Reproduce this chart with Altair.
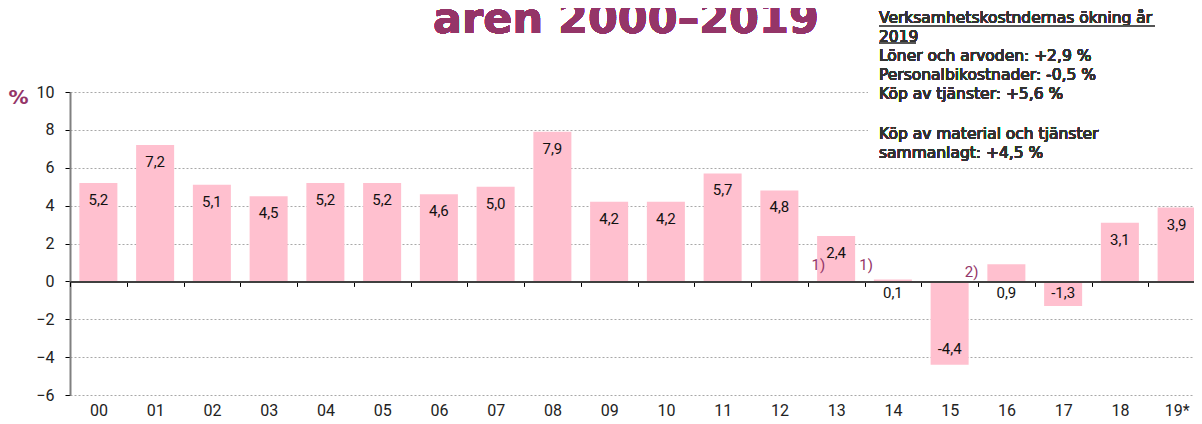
import altair as alt
import pandas as pd

years = ["00", "01", "02", "03", "04", "05", "06", "07", "08", "09",
         "10", "11", "12", "13", "14", "15", "16", "17", "18", "19*"]
values = [5.2, 7.2, 5.1, 4.5, 5.2, 5.2, 4.6, 5.0, 7.9, 4.2,
          4.2, 5.7, 4.8, 2.4, 0.1, -4.4, 0.9, -1.3, 3.1, 3.9]
y_ticks = [-6, -4, -2, 0, 2, 4, 6, 8, 10]
note_years = ["13", "14", "16"]
note_texts = ["1)", "1)", "2)"]
title_text = "åren 2000–2019"
y_title = "%"
box_lines_a = [
    "Verksamhetskostndernas ökning år",
    "2019",
    "Löner och arvoden:  +2,9 %",
    "Personalbikostnader:  -0,5 %",
    "Köp av tjänster: +5,6 %",
]
box_lines_b = [
    "Köp av material och tjänster",
    "sammanlagt: +4,5 %",
]

PURPLE = "#943568"
PINK = "#FFC0CF"
W, H = 1135, 303

df = pd.DataFrame({"year": years, "value": values})
df["label"] = [f"{v:.1f}".replace(".", ",") for v in values]
notes = pd.DataFrame({"year": note_years, "note": note_texts})

x_scale = alt.Scale(paddingInner=0, paddingOuter=0)
x_axis = alt.Axis(
    title=None, labelAngle=0, orient="bottom", offset=-113.6,
    tickBand="extent", tickSize=5, tickColor="#000000", tickWidth=1,
    domainColor="#404040", domainWidth=2,
    labelFont="Roboto", labelFontSize=16, labelColor="#222222",
    labelPadding=116, labelBaseline="top", zindex=1,
)
y_scale = alt.Scale(domain=[-6, 10], nice=False, zero=False)
y_axis = alt.Axis(
    values=y_ticks, grid=True, gridDash=[2, 2], gridColor="#a8a8a8",
    gridWidth=1, domainColor="#808080", domainWidth=2, tickColor="#000000",
    tickSize=5, labelFont="Roboto", labelFontSize=16, labelColor="#222222",
    labelPadding=11, labelOverlap=False,
    title=y_title, titleAngle=0, titleAlign="left", titleBaseline="alphabetic",
    titleX=-62, titleY=11, titleColor=PURPLE, titleFont="DejaVu Sans",
    titleFontWeight="bold", titleFontSize=20,
)

x_enc = alt.X("year:N", sort=years, scale=x_scale, axis=x_axis)
y_enc = alt.Y("value:Q", scale=y_scale, axis=y_axis)
y_zero = alt.YDatum(0, scale=y_scale, axis=y_axis)

base = alt.Chart(df)
bars = base.mark_bar(color=PINK, width=alt.RelativeBandSize(0.67)).encode(
    x=x_enc, y=y_enc, y2=alt.datum(0))

lbl_style = dict(font="Roboto", fontSize=15, color="#111111", baseline="middle")
lab_pos = base.transform_filter("datum.value >= 2").mark_text(dy=17, **lbl_style).encode(
    x=x_enc, y=y_enc, text="label:N")
lab_neg = base.transform_filter("datum.value <= -2").mark_text(dy=-16, **lbl_style).encode(
    x=x_enc, y=y_enc, text="label:N")
lab_small = base.transform_filter("datum.value > -2 && datum.value < 2").mark_text(
    dy=12, **lbl_style).encode(x=x_enc, y=y_zero, text="label:N")

note_offsets = [(-11, -16.5), (-20, -16.5), (-28, -9.5)]
note_layers = []
for i, (dx, dy) in enumerate(note_offsets):
    note_layers.append(
        alt.Chart(notes.iloc[[i]]).mark_text(
            align="right", baseline="middle", dx=dx, dy=dy,
            font="Roboto", fontSize=15, color=PURPLE,
        ).encode(x=x_enc, y=y_zero, text="note:N")
    )

white_box = alt.Chart(df).mark_rect(color="white").encode(
    x=alt.value(798), x2=alt.value(W), y=alt.value(-92), y2=alt.value(68))

box_style = dict(align="left", baseline="alphabetic", font="DejaVu Sans", fontSize=15.5,
                 color="#333333", lineHeight=19)
box_text_a = alt.Chart(df).mark_text(**box_style).encode(
    x=alt.value(809), y=alt.value(-68.7), text=alt.value(box_lines_a))
box_text_b = alt.Chart(df).mark_text(**box_style).encode(
    x=alt.value(809), y=alt.value(46.5), text=alt.value(box_lines_b))

underline1 = alt.Chart(df).mark_rule(color="#555555", strokeWidth=1).encode(
    x=alt.value(809), x2=alt.value(1085), y=alt.value(-66.3))
underline2 = alt.Chart(df).mark_rule(color="#555555", strokeWidth=1).encode(
    x=alt.value(809), x2=alt.value(846), y=alt.value(-49.3))

title = alt.Chart(df).mark_text(
    align="left", baseline="alphabetic", font="DejaVu Sans", fontWeight="bold",
    fontSize=43, color=PURPLE,
).encode(x=alt.value(363), y=alt.value(-59), text=alt.value(title_text))

chart = alt.layer(
    bars, lab_pos, lab_neg, lab_small, *note_layers,
    white_box, box_text_a, box_text_b, underline1, underline2, title,
).properties(
    width=W, height=H, background="white",
    autosize=alt.AutoSizeParams(type="none"),
    padding={"left": 62, "top": 84, "right": -11, "bottom": 21},
).configure_view(stroke=None)

chart.save("out.html", embed_options={"renderer": "svg", "actions": False})
